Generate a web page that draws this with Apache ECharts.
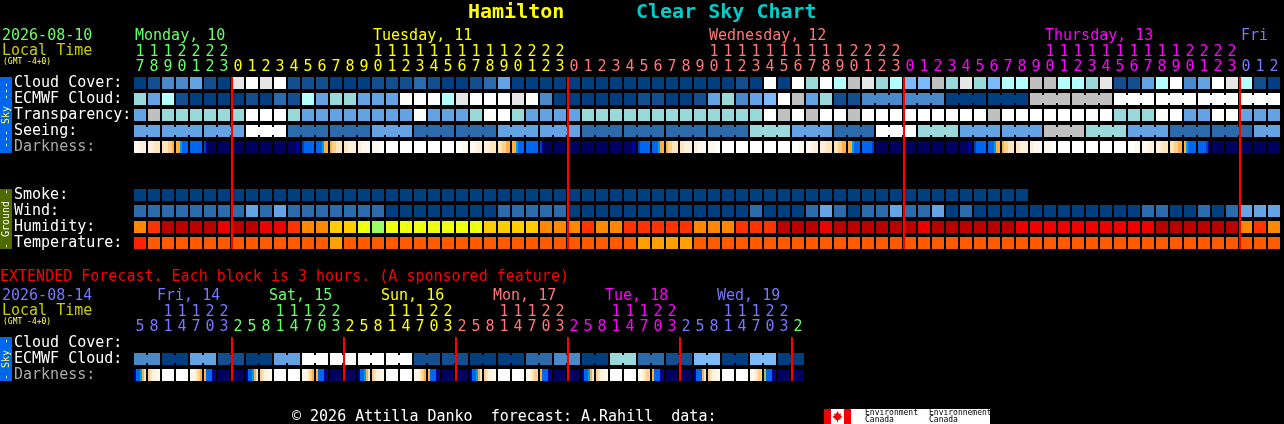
<!DOCTYPE html>
<html><head><meta charset="utf-8">
<style>html,body{margin:0;padding:0;background:#000;overflow:hidden}#c{width:1284px;height:424px}</style>
<script src="https://cdn.jsdelivr.net/npm/echarts@6/dist/echarts.min.js"></script>
</head><body><div id="c"></div>
<script>
const rowLabels=["Cloud Cover:","ECMWF Cloud:","Transparency:","Seeing:","Darkness:","","","Smoke:","Wind:","Humidity:","Temperature:"];
const extRowLabels=["Cloud Cover:","ECMWF Cloud:","Darkness:"];
const hours=[17,18,19,20,21,22,23,0,1,2,3,4,5,6,7,8,9,10,11,12,13,14,15,16,17,18,19,20,21,22,23,0,1,2,3,4,5,6,7,8,9,10,11,12,13,14,15,16,17,18,19,20,21,22,23,0,1,2,3,4,5,6,7,8,9,10,11,12,13,14,15,16,17,18,19,20,21,22,23,0,1,2];
const extHours=[5,8,11,14,17,20,23,2,5,8,11,14,17,20,23,2,5,8,11,14,17,20,23,2,5,8,11,14,17,20,23,2,5,8,11,14,17,20,23,2,5,8,11,14,17,20,23,2];
const dayNames=["Monday, 10","Tuesday, 11","Wednesday, 12","Thursday, 13","Fri"];
const dayCols=[0,17,41,65,79];
const extDayNames=["Fri, 14","Sat, 15","Sun, 16","Mon, 17","Tue, 18","Wed, 19"];
const extDayCols=[2,10,18,26,34,42];
const midnights=[7,31,55,79];
const extMidnights=[7,15,23,31,39,47];
const dayColours=["#66FF66","#FFFF00","#FF7777","#FF00FF","#7777FF"];
const extDayColours=["#7777FF","#66FF66","#FFFF00","#FF7777","#FF00FF","#7777FF"];
const hourColourStarts=[0,7,31,55,79];
const extHourColourOrder=["#7777FF","#66FF66","#FFFF00","#FF7777","#FF00FF","#7777FF","#66FF66"];
const extHourColourStarts=[0,7,15,23,31,39,47];

const cloudCover=[0,1,3,3,4,1,0,9,10,9,10,1,1,1,0,0,0,1,1,1,2,1,0,0,1,2,4,0,0,0,0,0,0,0,0,0,0,0,0,0,0,0,0,1,0,10,0,10,7,10,6,8,9,7,6,5,5,8,7,9,7,5,6,6,8,8,6,6,7,9,1,1,4,6,10,3,4,10,9,6,1,0];
const ecmwfCloud=[7,4,6,1,0,0,0,0,1,0,2,1,6,4,7,7,4,4,4,10,10,10,6,9,10,10,10,9,10,3,0,0,0,0,0,0,1,1,0,0,1,4,7,3,4,5,10,8,4,7,1,1,3,3,3,3,3,3,0,0,0,0,0,0,8,8,8,8,8,8,10,10,10,10,10,10,10,10,10,10,10,10];
const transparency=[4,8,7,7,7,7,7,7,10,10,10,7,4,4,4,4,4,4,4,4,10,4,4,4,7,10,10,7,4,4,4,4,7,7,7,7,7,7,7,7,7,7,7,7,7,10,8,10,8,10,10,8,10,10,10,10,10,10,10,10,10,8,10,10,10,10,10,10,10,10,7,7,7,10,10,4,4,10,10,4,4,4];
const seeing=[4,4,4,4,4,4,4,4,10,10,10,2,2,2,2,2,2,4,4,4,2,2,2,2,2,2,4,4,4,4,4,4,2,2,2,2,2,2,2,2,2,2,2,2,7,7,7,4,4,4,2,2,2,10,10,10,7,7,7,4,4,4,4,4,4,8,8,8,7,7,7,4,4,4,2,2,2,2,2,2,4,4];
const seeingBlocks=[2,3,3,3,3,3,3,3,3,3,3,3,3,3,3,3,3,3,3,3,3,3,3,3,3,3,3,2];
const ecmwfBlocks=[1,1,1,1,1,1,1,1,1,1,1,1,1,1,1,1,1,1,1,1,1,1,1,1,1,1,1,1,1,1,1,1,1,1,1,1,1,1,1,1,1,1,1,1,1,1,1,1,1,1,1,1,3,3,3,3,3,3,3,3,3,3];
const darkness=["111222","222333","333445","556777","777777","89aaaa","aaaaaa","aaaaaa","aaaaaa","aaaaaa","aaaaaa","aaaa99","877777","777655","544333","332222","221111","111100","000000","000000","000000","000000","000000","000111","111222","222333","334455","556777","777777","89aaaa","aaaaaa","aaaaaa","aaaaaa","aaaaaa","aaaaaa","aaaa99","877777","777655","544333","332222","221111","111100","000000","000000","000000","000000","000000","000111","111222","222333","334455","556777","777778","aaaaaa","aaaaaa","aaaaaa","aaaaaa","aaaaaa","aaaaaa","aaaa99","877777","777655","544333","332222","221111","111100","000000","000000","000000","000000","000000","000111","111222","222333","334455","567777","777789","aaaaaa","aaaaaa","aaaaaa","aaaaaa","aaaaaa"];
const smoke=[0,0,0,0,0,0,0,0,0,0,0,0,0,0,0,0,0,0,0,0,0,0,0,0,0,0,0,0,0,0,0,0,0,0,0,0,0,0,0,0,0,0,0,0,0,0,0,0,0,0,0,0,0,0,0,0,0,0,0,0,0,0,0,0];
const wind=[1,1,1,1,1,1,1,1,2,1,2,1,1,1,1,1,1,1,0,0,0,0,0,0,0,0,1,1,1,1,1,0,0,0,0,0,0,0,0,0,0,0,0,0,1,0,0,0,1,2,1,0,1,1,2,1,1,2,0,1,0,0,0,0,0,0,0,0,0,0,0,0,1,1,0,0,1,0,1,2,2,2];
const humidity=[3,4,6,6,6,6,5,6,6,5,5,4,3,3,2,2,1,0,1,1,1,1,1,1,1,2,2,2,2,3,3,3,4,3,3,4,4,4,4,4,3,3,3,4,4,4,6,6,6,5,6,6,6,6,6,6,5,6,6,6,6,6,6,5,5,5,5,5,5,5,5,5,5,6,6,6,6,6,6,3,4,3];
const temperature=[2,1,1,1,1,1,1,1,1,1,1,1,1,1,0,1,1,1,1,1,1,1,1,1,1,1,1,1,1,1,1,1,1,1,1,1,0,0,0,0,1,1,1,1,1,1,1,1,1,1,1,1,1,1,1,1,1,1,1,1,1,1,1,1,1,1,1,1,1,1,1,1,1,1,1,1,1,1,1,1,1,1];
const extEcmwf=[3,3,0,0,4,4,1,1,0,0,4,4,10,10,10,10,10,10,10,10,1,1,1,1,0,0,0,0,2,2,3,3,0,0,7,7,2,2,1,1,5,5,0,0,5,5,0,0];
const extBlocks=[2,2,2,2,2,2,2,2,2,2,2,2,2,2,2,2,2,2,2,2,2,2,2,2];
const extDarkness=["977653","432211","000000","000000","112345","577799","aaaaaa","aaaaaa","977653","432211","000000","000000","112345","577799","aaaaaa","aaaaaa","977653","432211","000000","000000","112345","577799","aaaaaa","aaaaaa","977653","432211","000000","000000","112344","577799","aaaaaa","aaaaaa","977653","432211","000000","000000","112344","577799","aaaaaa","aaaaaa","977753","432211","000000","000000","112344","g77799","aaaaaa","aaaaaa"];

const cloudPalette=["#003F7F","#134F8F","#2B6BAB","#4A8ACA","#63A3E3","#7BBBFB","#B4FFFF","#99D9D9","#C0C0C0","#E6E6E6","#FFFFFF"];
const windPalette=["#003F7F","#2C6CAC","#65A5E5"];
const humidityPalette=["#99FF66","#EEFF11","#FFCC00","#FF8800","#FF3300","#EE0000","#B80000"];
const temperaturePalette=["#FFA000","#FF5A00","#FF2200"];
const darkPalette={"0":"#FFFFFF","1":"#FFF8EE","2":"#FFF0DC","3":"#FFE4BC","4":"#FFCF90","5":"#FFB040","6":"#00A0E0","7":"#0066EE","8":"#0040C0","9":"#000099","a":"#00005F","g":"#A0C060"};
const MONO='"DejaVu Sans Mono","Liberation Mono",monospace';
const RED="#FF0000";

function cellSeries(values,row,palette,grid,blocks){
  const joined=new Set();
  if(blocks){let s=0;blocks.forEach(b=>{for(let k=0;k<b-1;k++)joined.add(s+k);s+=b;});}
  return {type:'custom',xAxisIndex:grid,yAxisIndex:grid,clip:false,silent:true,
    data:values.map((v,i)=>[i,row,v]),
    renderItem(p,api){
      const i=api.value(0),c=api.coord([i,row]),col=palette[values[i]];
      const kids=[{type:'rect',shape:{x:c[0]-6,y:c[1]-6,width:12,height:12},style:{fill:col}}];
      if(joined.has(i))kids.push({type:'rect',shape:{x:c[0]+6,y:c[1]-4,width:2,height:8},style:{fill:col}});
      return {type:'group',children:kids};
    }};
}
function darkSeries(values,row,grid){
  return {type:'custom',xAxisIndex:grid,yAxisIndex:grid,clip:false,silent:true,
    data:values.map((v,i)=>[i,row]),
    renderItem(p,api){
      const i=api.value(0),c=api.coord([i,row]),s=values[i],n=s.length,stops=[];
      for(let k=0;k<n;k++){stops.push({offset:k/n,color:darkPalette[s[k]]},{offset:(k+1)/n,color:darkPalette[s[k]]});}
      return {type:'rect',shape:{x:c[0]-6,y:c[1]-6,width:12,height:12},
        style:{fill:new echarts.graphic.LinearGradient(0,0,1,0,stops)}};
    }};
}
function lineSeries(cols,grid,lastRow){
  return {type:'custom',xAxisIndex:grid,yAxisIndex:grid,clip:false,silent:true,z:20,
    data:cols.map(c=>[c]),
    renderItem(p,api){
      const a=api.coord([api.value(0),0]),b=api.coord([api.value(0),lastRow]);
      return {type:'rect',z2:50,shape:{x:a[0]-7,y:a[1]-6,width:2,height:b[1]-a[1]+12},style:{fill:RED}};
    }};
}
function dayLabelSeries(names,cols,colours,grid,offset){
  return {type:'custom',xAxisIndex:grid,yAxisIndex:grid,clip:false,silent:true,
    data:cols.map(c=>[c]),
    renderItem(p,api){
      const i=p.dataIndex,c=api.coord([cols[i],0]);
      return {type:'text',style:{x:c[0]+offset,y:c[1]-47,text:names[i],fill:colours[i],font:'15px '+MONO,textVerticalAlign:'middle',textBaseline:'middle'}};
    }};
}
function colourAt(starts,order,i){let r=order[0];starts.forEach((s,k)=>{if(i>=s)r=order[k];});return r;}
function xAxis(list,grid,starts,order){
  return {type:'category',gridIndex:grid,position:'top',data:list.map(String),
    axisLine:{show:false},axisTick:{show:false},splitLine:{show:false},
    axisLabel:{interval:0,margin:0,fontFamily:MONO,fontSize:15,lineHeight:15,
      formatter:v=>v.length>1?v[0]+"\n"+v[1]:"\n"+v,
      color:(v,i)=>colourAt(starts,order,i)}};
}
function yAxis(list,grid){
  return {type:'category',gridIndex:grid,inverse:true,data:list,
    axisLine:{show:false},axisTick:{show:false},splitLine:{show:false},
    axisLabel:{interval:0,margin:119,align:'left',fontFamily:MONO,fontSize:15,padding:[0,0,4,0],
      color:v=>v==="Darkness:"?"#AAAAAA":"#FFFFFF"}};
}
function txt(x,y,text,fill,size){
  return {type:'text',silent:true,x:x,y:y,z:10,style:{text:text,fill:fill,font:(size||15)+'px '+MONO,textVerticalAlign:'middle',verticalAlign:'middle'}};
}
function bar(y,h,fill){return {type:'rect',silent:true,z:9,shape:{x:0,y:y,width:12,height:h},style:{fill:fill}};}
function vtext(cy,text,fill){
  return {type:'text',silent:true,z:10,x:6,y:cy,rotation:Math.PI/2,style:{text:text,fill:fill,font:'10px '+MONO,align:'center',verticalAlign:'middle'}};
}

const chart=echarts.init(document.getElementById('c'),null,{renderer:'canvas'});
chart.setOption({
  animation:false,backgroundColor:'#000',
  title:[
    {text:'Hamilton',left:468,top:1,padding:0,textStyle:{color:'#FFFF00',fontFamily:MONO,fontSize:20,fontWeight:'bold',lineHeight:24}},
    {text:'Clear Sky Chart',left:636,top:1,padding:0,textStyle:{color:'#00CCCC',fontFamily:MONO,fontSize:20,fontWeight:'bold',lineHeight:24}}
  ],
  grid:[
    {left:133,top:75,width:1148,height:176,containLabel:false,outerBoundsMode:'none'},
    {left:133,top:335,width:672,height:48,containLabel:false,outerBoundsMode:'none'}
  ],
  xAxis:[xAxis(hours,0,hourColourStarts,dayColours),xAxis(extHours,1,extHourColourStarts,extHourColourOrder)],
  yAxis:[yAxis(rowLabels,0),yAxis(extRowLabels,1)],
  series:[
    cellSeries(cloudCover,0,cloudPalette,0),
    cellSeries(ecmwfCloud,1,cloudPalette,0,ecmwfBlocks),
    cellSeries(transparency,2,cloudPalette,0),
    cellSeries(seeing,3,cloudPalette,0,seeingBlocks),
    darkSeries(darkness,4,0),
    cellSeries(smoke,7,windPalette,0),
    cellSeries(wind,8,windPalette,0),
    cellSeries(humidity,9,humidityPalette,0),
    cellSeries(temperature,10,temperaturePalette,0),
    dayLabelSeries(dayNames,dayCols,dayColours,0,-5),
    cellSeries(extEcmwf,1,cloudPalette,1,extBlocks),
    darkSeries(extDarkness,2,1),
    dayLabelSeries(extDayNames,extDayCols,extDayColours,1,-11),
    lineSeries(midnights,0,10),
    lineSeries(extMidnights,1,2)
  ],
  graphic:{elements:[
    txt(2,36,'2026-08-10','#66FF66'),
    txt(2,51,'Local Time','#CCCC00'),
    txt(3,62,'(GMT -4+0)','#FFFF66',8),
    txt(0,277,'EXTENDED Forecast. Each block is 3 hours. (A sponsored feature)',RED),
    txt(2,296,'2026-08-14','#7777FF'),
    txt(2,311,'Local Time','#CCCC00'),
    txt(3,322,'(GMT -4+0)','#FFFF66',8),
    txt(292,417,'© 2026 Attilla Danko  forecast: A.Rahill  data:','#FFFFFF'),
    bar(77,76,'#0066EE'),vtext(115,'--- Sky ---','#FFFF66'),
    bar(189,60,'#4F6B00'),vtext(219,'- Ground -','#FFFFFF'),
    bar(337,44,'#0066EE'),vtext(359,'- Sky -','#FFFF66'),
    {type:'rect',silent:true,shape:{x:824,y:409,width:166,height:15},style:{fill:'#FFFFFF'}},
    {type:'rect',silent:true,shape:{x:824,y:409,width:7,height:15},style:{fill:'#F00000'}},
    {type:'rect',silent:true,shape:{x:844,y:409,width:7,height:15},style:{fill:'#F00000'}},
    {type:'polygon',silent:true,shape:{points:[[837.5,411],[839,414],[841,413.5],[840.5,416],[842.5,416.5],[839,420],[838,420],[838,422],[837,422],[837,420],[836,420],[832.5,416.5],[834.5,416],[834,413.5],[836,414]]},style:{fill:'#F00000'}},
    txt(865,413,'Environment','#000000',8),
    txt(865,420,'Canada','#000000',8),
    txt(929,413,'Environnement','#000000',8),
    txt(929,420,'Canada','#000000',8)
  ]}
});
</script></body></html>
